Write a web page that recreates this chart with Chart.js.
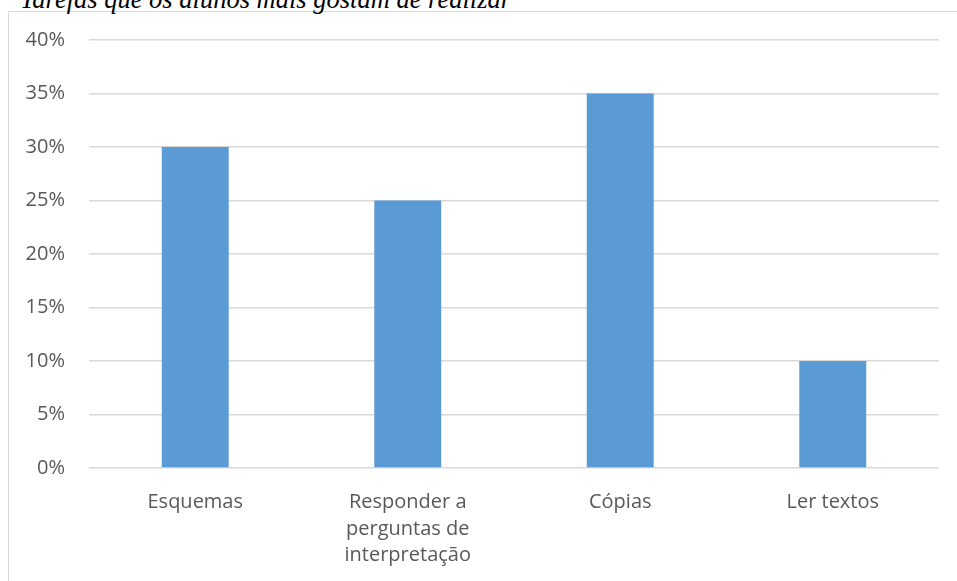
<!DOCTYPE html>
<html>
<head>
<meta charset="utf-8">
<script src="https://cdn.jsdelivr.net/npm/chart.js@4"></script>
<style>
  body { margin: 0; background: #fff; width: 957px; height: 581px; overflow: hidden; position: relative; }
  #frame { position: absolute; left: 8px; top: 11px; width: 1000px; height: 700px; border-left: 1px solid #d9d9d9; border-top: 1px solid #d9d9d9; }
  #title { position: absolute; left: 20px; top: -16px; font-family: "Liberation Serif", serif; font-style: italic; font-size: 26.5px; line-height: 30px; color: #000; white-space: nowrap; }
  #wrap { position: absolute; left: 0; top: 0; width: 957px; height: 581px; }
</style>
</head>
<body>
<div id="frame"></div>
<div id="title">Tarefas que os alunos mais gostam de realizar</div>
<div id="wrap"><canvas id="myChart"></canvas></div>
<script>
const categories = ["Esquemas", ["Responder a", "perguntas de", "interpretação"], "Cópias", "Ler textos"];
const values = [30, 25, 35, 10];
const yTicks = [0, 5, 10, 15, 20, 25, 30, 35, 40];

const myChart = document.getElementById("myChart");

const config = {
    type: "bar",
    data: {
        labels: categories,
        datasets: [
            {
                data: values,
                backgroundColor: "#5b9bd5",
                barPercentage: 0.315,
                categoryPercentage: 1,
            },
        ],
    },
    options: {
        responsive: true,
        maintainAspectRatio: false,
        animation: false,
        layout: { padding: { left: 0, right: 18, top: 40, bottom: 0 } },
        plugins: { legend: { display: false }, tooltip: { enabled: false } },
        scales: {
            x: {
                grid: { display: false },
                border: { display: false },
                ticks: {
                    color: "#595959",
                    font: { family: "Open Sans", size: 20, lineHeight: 1.33 },
                    padding: 13,
                    maxRotation: 0,
                    autoSkip: false,
                },
                afterFit: (s) => { s.height = 113; },
            },
            y: {
                min: 0,
                max: 40,
                afterBuildTicks: (s) => { s.ticks = yTicks.map((v) => ({ value: v })); },
                grid: { color: "#d9d9d9", lineWidth: 1.5, drawTicks: false },
                border: { display: false },
                ticks: {
                    color: "#595959",
                    font: { family: "Open Sans", size: 20 },
                    padding: 24,
                    callback: (v) => v + "%",
                },
                afterFit: (s) => { s.width = 89; },
            },
        },
    },
};

new Chart(myChart, config);
</script>
</body>
</html>
